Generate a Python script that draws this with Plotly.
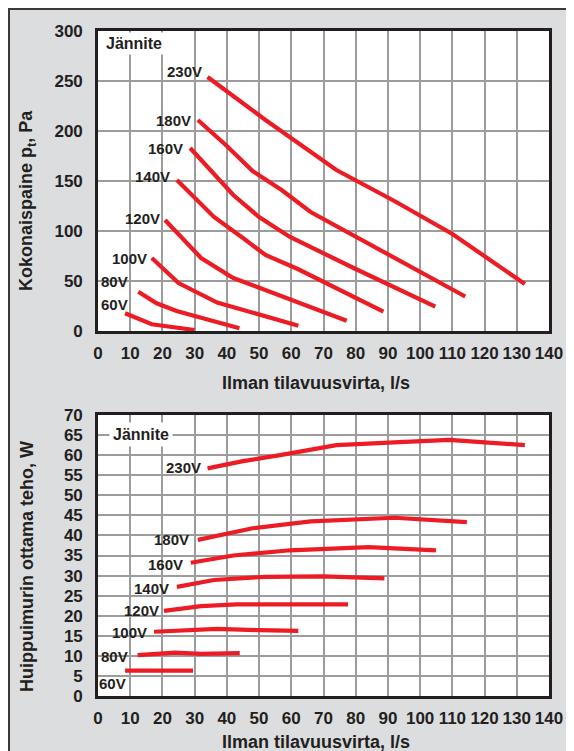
import plotly.graph_objects as go

# ---------------- data ----------------
voltages = ["230V", "180V", "160V", "140V", "120V", "100V", "80V", "60V"]

# Top chart: total pressure (Pa) vs air flow (l/s)
p_flow = {
    "230V": [34, 52, 74, 92, 110, 132.5],
    "180V": [31, 40, 48, 57, 66, 90, 114],
    "160V": [28.6, 35, 42, 50, 59.6, 80, 104.7],
    "140V": [24.5, 36, 45, 52, 62, 75, 88.6],
    "120V": [20.8, 32, 42, 56.5, 63, 77.2],
    "100V": [16.7, 25, 37, 50, 62.2],
    "80V": [12.5, 18.2, 24.4, 31.7, 43.9],
    "60V": [8.4, 16.7, 30],
}
p_pres = {
    "230V": [254, 211, 161, 130, 97, 47],
    "180V": [211, 185, 160, 141, 119, 77, 34.5],
    "160V": [183, 160, 136, 114, 94, 62, 24.3],
    "140V": [151, 114, 93, 76, 62, 41, 19.3],
    "120V": [111, 73, 53, 35, 27, 10.3],
    "100V": [73, 48, 28.5, 16.5, 5.3],
    "80V": [39.3, 27.7, 20, 13.7, 2.7],
    "60V": [17.7, 6.7, 1],
}

# Bottom chart: fan input power (W) vs air flow (l/s)
w_flow = {
    "230V": [34, 45, 56.5, 74, 92, 109, 132.5],
    "180V": [31, 48, 66, 92, 114.5],
    "160V": [28.8, 42, 59.6, 84, 104.9],
    "140V": [24.5, 36, 52, 70, 88.9],
    "120V": [20.5, 32, 43, 60, 77.6],
    "100V": [17.4, 28, 37, 50, 62.2],
    "80V": [12.3, 24, 32, 44],
    "60V": [8.4, 29.5],
}
w_pow = {
    "230V": [56.7, 58.5, 60, 62.5, 63.2, 63.8, 62.5],
    "180V": [38.9, 41.8, 43.5, 44.4, 43.3],
    "160V": [33.2, 35, 36.3, 37.1, 36.3],
    "140V": [27.2, 28.9, 29.7, 29.8, 29.3],
    "120V": [21.2, 22.4, 22.8, 22.9, 22.8],
    "100V": [16, 16.4, 16.7, 16.4, 16.2],
    "80V": [10.2, 10.8, 10.5, 10.7],
    "60V": [6.3, 6.3],
}

x_ticks = list(range(0, 141, 10))
p_ticks = list(range(0, 301, 50))
w_ticks = list(range(0, 71, 5))

legend_title = "Jännite"
x_title = "Ilman tilavuusvirta, l/s"
p_title = "Kokonaispaine p<sub>t</sub>, Pa"
w_title = "Huippuimurin ottama teho, W"

# ---------------- styling ----------------
OFF = 8  # page body margin of the html page
W, H = 574 - OFF, 751 - OFF
ML, MR, MT, MB = 98 - OFF, 25, 31 - OFF, 55
PW, PH = W - ML - MR, H - MT - MB
FONT = "Liberation Sans, Arial, sans-serif"
TXT = "#231f20"
RED = "#ed1c24"
GRID = "#9c9c9c"
BG = "#dcdddf"

def px2paper_x(px):
    return (px - OFF - ML) / PW

def px2paper_y(py):
    return (H - MB - (py - OFF)) / PH

top_dom = [px2paper_y(331), 1.0]
bot_dom = [0.0, px2paper_y(415)]

# label offsets in pixels relative to line start (xshift, yshift)
p_label_shift = {
    "230V": (-4, 6), "180V": (-5, 0), "160V": (-5, 0), "140V": (-5, 4),
    "120V": (-3, 2), "100V": (-3, 0), "80V": (-8, 10), "60V": (5, 9),
}
w_label_shift = {
    "230V": (-5, 1), "180V": (-7, 0), "160V": (-6, -2), "140V": (-6, -2),
    "120V": (-3, 0), "100V": (-5, -1), "80V": (-8, -1), "60V": (3, -13),
}

fig = go.Figure()
annotations = []
for v in voltages:
    fig.add_trace(go.Scatter(x=p_flow[v], y=p_pres[v], mode="lines",
                             line=dict(color=RED, width=4.2),
                             xaxis="x", yaxis="y", showlegend=False, hoverinfo="skip"))
    fig.add_trace(go.Scatter(x=w_flow[v], y=w_pow[v], mode="lines",
                             line=dict(color=RED, width=4.2),
                             xaxis="x2", yaxis="y2", showlegend=False, hoverinfo="skip"))
    dx, dy = p_label_shift[v]
    annotations.append(dict(x=p_flow[v][0], y=p_pres[v][0], xref="x", yref="y",
                            text=v, showarrow=False, xanchor="right", yanchor="middle",
                            xshift=dx, yshift=dy,
                            font=dict(family=FONT, size=15, color=TXT, weight=700)))
    dx, dy = w_label_shift[v]
    annotations.append(dict(x=w_flow[v][0], y=w_pow[v][0], xref="x2", yref="y2",
                            text=v, showarrow=False, xanchor="right", yanchor="middle",
                            xshift=dx, yshift=dy,
                            font=dict(family=FONT, size=15, color=TXT, weight=700)))

# "Jännite" boxes
annotations.append(dict(x=px2paper_x(103), y=px2paper_y(44), xref="paper", yref="paper",
                        text=legend_title, showarrow=False, xanchor="left", yanchor="middle",
                        bgcolor="white", borderpad=2,
                        font=dict(family=FONT, size=16, color=TXT, weight=700)))
annotations.append(dict(x=px2paper_x(109), y=px2paper_y(435), xref="paper", yref="paper",
                        text=legend_title, showarrow=False, xanchor="left", yanchor="middle",
                        bgcolor="white", borderpad=3,
                        font=dict(family=FONT, size=16, color=TXT, weight=700)))

# axis titles
for (tx, ty, txt, ang) in [
    (316, 383, x_title, 0), (316, 742, x_title, 0),
    (27, 201, p_title, -90), (27, 567, w_title, -90),
]:
    annotations.append(dict(x=px2paper_x(tx), y=px2paper_y(ty), xref="paper", yref="paper",
                            text=txt, showarrow=False, xanchor="center", yanchor="middle",
                            textangle=ang,
                            font=dict(family=FONT, size=18, color=TXT, weight=700)))

axis_common = dict(showgrid=True, gridcolor=GRID, gridwidth=1.6, zeroline=False,
                   showline=True, mirror=True, linecolor=TXT, linewidth=2.6,
                   ticks="", tickfont=dict(family=FONT, size=17, color=TXT, weight=700),
                   fixedrange=True, automargin=False, tickangle=0)

fig.update_layout(
    width=W, height=H,
    margin=dict(l=ML, r=MR, t=MT, b=MB),
    paper_bgcolor=BG, plot_bgcolor="white",
    xaxis=dict(axis_common, domain=[0, 1], anchor="y", range=[0, 140],
               tickvals=x_ticks, ticklabelstandoff=5),
    yaxis=dict(axis_common, domain=top_dom, anchor="x", range=[0, 300],
               tickvals=p_ticks, ticklabelstandoff=9),
    xaxis2=dict(axis_common, domain=[0, 1], anchor="y2", range=[0, 140],
                tickvals=x_ticks, ticklabelstandoff=5),
    yaxis2=dict(axis_common, domain=bot_dom, anchor="x2", range=[0, 70],
                tickvals=w_ticks, ticklabelstandoff=9),
    annotations=annotations,
    shapes=[
        dict(type="line", xref="paper", yref="paper", x0=px2paper_x(OFF), x1=px2paper_x(574),
             y0=px2paper_y(OFF + 1), y1=px2paper_y(OFF + 1), line=dict(color="#3a3a3a", width=2)),
        dict(type="line", xref="paper", yref="paper", x0=px2paper_x(OFF + 1), x1=px2paper_x(OFF + 1),
             y0=px2paper_y(OFF), y1=px2paper_y(751), line=dict(color="#3a3a3a", width=2)),
    ],
)

fig.write_html("out.html")
